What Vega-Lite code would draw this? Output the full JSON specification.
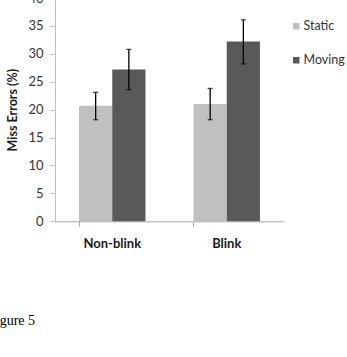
{
  "$schema": "https://vega.github.io/schema/vega-lite/v6.json",
  "autosize": {"type": "none"},
  "width": 229,
  "height": 223.3,
  "padding": {"left": 55, "top": -2, "right": 63, "bottom": 135.7},
  "background": "white",
  "config": {
    "view": {"stroke": null},
    "axisY": {
      "tickCount": 8,
      "labelOverlap": false,
      "labelBound": false,
      "labelFlush": false,
      "labelFont": "Lato",
      "labelFontSize": 13,
      "labelColor": "#333333",
      "labelPadding": 7,
      "tickSize": 5,
      "tickColor": "#bfbfbf",
      "domainColor": "#bfbfbf",
      "grid": false,
      "titleFont": "Lato",
      "titleFontSize": 12.5,
      "titleFontWeight": "bold",
      "titleColor": "#1a1a1a",
      "titlePadding": 8
    }
  },
  "title": {
    "text": "Figure 5",
    "orient": "bottom",
    "anchor": "start",
    "frame": "group",
    "font": "Liberation Serif",
    "fontSize": 14,
    "fontWeight": "normal",
    "color": "#000000",
    "offset": 64,
    "dx": -67
  },
  "data": {
    "values": [
      {"blink": "Non-blink", "condition": "Static", "errors": 20.7, "lo": 18.2, "hi": 23.1},
      {"blink": "Non-blink", "condition": "Moving", "errors": 27.2, "lo": 23.6, "hi": 30.8},
      {"blink": "Blink", "condition": "Static", "errors": 21.0, "lo": 18.2, "hi": 23.8},
      {"blink": "Blink", "condition": "Moving", "errors": 32.2, "lo": 28.2, "hi": 36.1}
    ]
  },
  "encoding": {
    "x": {
      "field": "blink",
      "type": "nominal",
      "sort": ["Non-blink", "Blink"],
      "scale": {"paddingInner": 0.42, "paddingOuter": 0.21},
      "axis": {
        "title": null,
        "labelAngle": 0,
        "labelFont": "Lato",
        "labelFontSize": 13,
        "labelFontWeight": "bold",
        "labelColor": "#1a1a1a",
        "labelPadding": 11,
        "bandPosition": 0,
        "tickSize": 5,
        "tickColor": "#a6a6a6",
        "domainColor": "#a6a6a6",
        "grid": false
      }
    },
    "xOffset": {
      "field": "condition",
      "type": "nominal",
      "sort": ["Static", "Moving"],
      "scale": {"paddingInner": 0, "paddingOuter": 0}
    }
  },
  "layer": [
    {
      "mark": {"type": "bar"},
      "encoding": {
        "y": {
          "field": "errors",
          "type": "quantitative",
          "scale": {"domain": [0, 40], "nice": false},
          "axis": {"title": "Miss Errors (%)"}
        },
        "color": {
          "field": "condition",
          "type": "nominal",
          "sort": ["Static", "Moving"],
          "scale": {"domain": ["Static", "Moving"], "range": ["#c0c0c0", "#595959"]},
          "legend": {
            "title": null,
            "orient": "none",
            "legendX": 235,
            "legendY": 22,
            "padding": 0,
            "symbolType": "square",
            "symbolSize": 42,
            "symbolStrokeWidth": 0,
            "labelFont": "Lato",
            "labelFontSize": 12.5,
            "labelColor": "#333333",
            "labelOffset": 1,
            "rowPadding": 21
          }
        }
      }
    },
    {
      "mark": {"type": "rule", "color": "#000000", "strokeWidth": 1.3},
      "encoding": {
        "y": {"field": "lo", "type": "quantitative", "axis": {"title": "Miss Errors (%)"}},
        "y2": {"field": "hi"}
      }
    },
    {
      "mark": {"type": "tick", "color": "#000000", "size": 5, "thickness": 1.3},
      "encoding": {"y": {"field": "lo", "type": "quantitative", "axis": {"title": "Miss Errors (%)"}}}
    },
    {
      "mark": {"type": "tick", "color": "#000000", "size": 5, "thickness": 1.3},
      "encoding": {"y": {"field": "hi", "type": "quantitative", "axis": {"title": "Miss Errors (%)"}}}
    }
  ]
}
